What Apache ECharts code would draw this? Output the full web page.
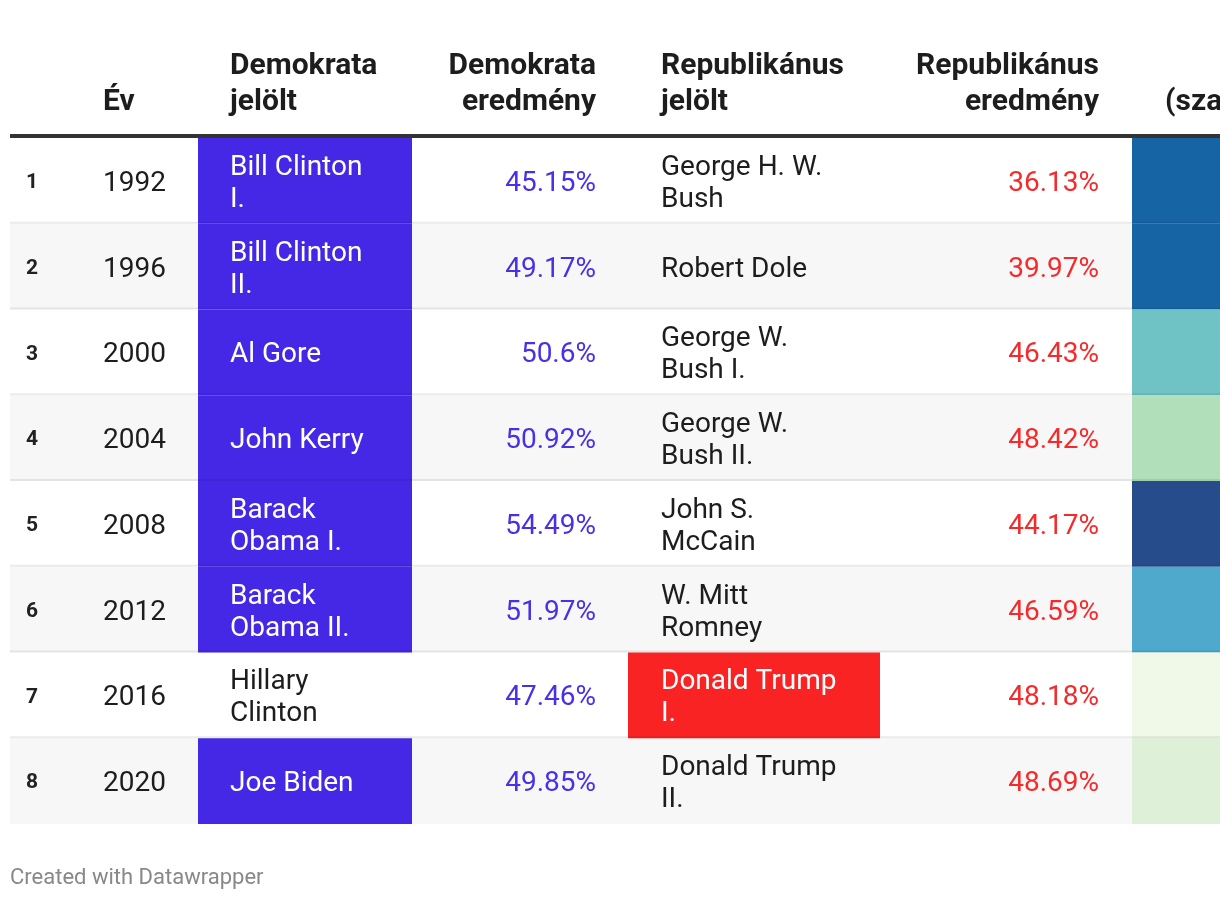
<!DOCTYPE html>
<html><head><meta charset="utf-8">
<script src="https://cdn.jsdelivr.net/npm/echarts@6/dist/echarts.min.js"></script>
<style>html,body{margin:0;padding:0;background:#fff}#chart{width:1220px;height:900px}</style>
</head><body><div id="chart"></div>
<script>
// ---- data ----
const rowNumbers = [1, 2, 3, 4, 5, 6, 7, 8];
const years = [1992, 1996, 2000, 2004, 2008, 2012, 2016, 2020];
const demCandidates = ['Bill Clinton I.', 'Bill Clinton II.', 'Al Gore', 'John Kerry', 'Barack Obama I.', 'Barack Obama II.', 'Hillary Clinton', 'Joe Biden'];
const demResults = [45.15, 49.17, 50.6, 50.92, 54.49, 51.97, 47.46, 49.85];
const repCandidates = ['George H. W. Bush', 'Robert Dole', 'George W. Bush I.', 'George W. Bush II.', 'John S. McCain', 'W. Mitt Romney', 'Donald Trump I.', 'Donald Trump II.'];
const repResults = [36.13, 39.97, 46.43, 48.42, 44.17, 46.59, 48.18, 48.69];
const headerYear = 'Év';
const headerDemName = 'Demokrata\njelölt';
const headerDemRes = 'Demokrata\neredmény';
const headerRepName = 'Republikánus\njelölt';
const headerRepRes = 'Republikánus\neredmény';
const headerDiff = '\n(szavazatkülönbség)';
const footerText = 'Created with Datawrapper';

// ---- styles / layout ----
const FONT = 'Roboto';
const DEM = '#4428e6', REP = '#f92324';
const DEM_TXT = '#4a2fe8', REP_TXT = '#f52a2a';
const TXT = '#1d1d1d';
const BODY = 28;
const TY = 3; // text vertical offset within row
const C = {num: 26, year: 103, demCell: [198, 412], demText: 230, demRes: 596,
           repCell: [628, 880], repText: 661, repRes: 1099, diffCell: [1132, 1240]};

const rows = years.map((y, i) => [0, i, +(demResults[i] - repResults[i]).toFixed(2)]);
const cats = years.map(String);

function geom(api) {
  const i = api.value(1);
  const c = api.coord([0, i]);
  const h = api.size([0, 1])[1];
  return {i, cy: c[1], top: c[1] - h / 2, h, X: x => api.coord([x, i])[0]};
}

function txt(x, y, text, opt) {
  return {type: 'text', x, y: y + TY, style: Object.assign({text, fontFamily: FONT, fontSize: BODY,
    fill: TXT, verticalAlign: 'middle', align: 'left', lineHeight: 32}, opt)};
}

function renderBg(params, api) {
  const g = geom(api);
  return {type: 'rect', shape: {x: g.X(10), y: g.top, width: g.X(1240) - g.X(10), height: g.h},
    style: {fill: g.i % 2 === 1 ? '#f7f7f7' : '#ffffff'}};
}

function renderSep(params, api) {
  const g = geom(api);
  if (g.i === years.length - 1) return null;
  return {type: 'rect', shape: {x: g.X(10), y: g.top + g.h - 2, width: g.X(1240) - g.X(10), height: 2},
    style: {fill: 'rgba(0,0,0,0.08)'}};
}

function renderCells(params, api) {
  const g = geom(api);
  const i = g.i;
  const demWin = demResults[i] > repResults[i];
  const ch = [];
  if (demWin) ch.push({type: 'rect', shape: {x: g.X(C.demCell[0]), y: g.top, width: g.X(C.demCell[1]) - g.X(C.demCell[0]), height: g.h}, style: {fill: DEM}});
  else ch.push({type: 'rect', shape: {x: g.X(C.repCell[0]), y: g.top, width: g.X(C.repCell[1]) - g.X(C.repCell[0]), height: g.h}, style: {fill: REP}});
  ch.push(txt(g.X(C.num), g.cy - 1, String(rowNumbers[i]), {fontSize: 21, fontWeight: 'bold', fill: '#222'}));
  ch.push(txt(g.X(C.year), g.cy, String(years[i]), {}));
  ch.push(txt(g.X(C.demText), g.cy, demCandidates[i], {fill: demWin ? '#fff' : TXT, width: 150, overflow: 'break'}));
  ch.push(txt(g.X(C.demRes), g.cy, demResults[i] + '%', {fill: DEM_TXT, align: 'right'}));
  ch.push(txt(g.X(C.repText), g.cy, repCandidates[i], {fill: demWin ? TXT : '#fff', width: 186, overflow: 'break'}));
  ch.push(txt(g.X(C.repRes), g.cy, repResults[i] + '%', {fill: REP_TXT, align: 'right'}));
  return {type: 'group', children: ch};
}

function renderDiff(params, api) {
  const g = geom(api);
  return {type: 'rect', shape: {x: g.X(C.diffCell[0]), y: g.top, width: g.X(C.diffCell[1]) - g.X(C.diffCell[0]), height: g.h},
    style: {fill: api.visual('color')}};
}

function headerText(x, text, align) {
  return {type: 'text', x, y: 84, style: {text, fontFamily: FONT, fontSize: 30, fontWeight: 'bold',
    fill: '#1d1d1d', align, verticalAlign: 'middle', lineHeight: 36}};
}

const chart = echarts.init(document.getElementById('chart'), null, {renderer: 'canvas'});
chart.setOption({
  animation: false,
  backgroundColor: '#ffffff',
  grid: {left: 0, right: 0, top: 138, height: 686},
  xAxis: {type: 'value', min: 0, max: 1220, show: false},
  yAxis: {type: 'category', data: cats, inverse: true, show: false},
  visualMap: {type: 'piecewise', show: false, seriesIndex: 2, dimension: 2,
    pieces: [
      {lt: 0.5, color: '#f0f8e8'},
      {gte: 0.5, lt: 2, color: '#def0d8'},
      {gte: 2, lt: 3.5, color: '#b0dfba'},
      {gte: 3.5, lt: 5, color: '#6fc3c5'},
      {gte: 5, lt: 7, color: '#4fa9cc'},
      {gte: 7, lt: 9.5, color: '#1764a5'},
      {gte: 9.5, color: '#264c8c'}
    ]},
  series: [
    {type: 'custom', renderItem: renderBg, data: rows, encode: {x: 0, y: 1}, z: 1, silent: true},
    {type: 'custom', renderItem: renderCells, data: rows, encode: {x: 0, y: 1}, z: 2, silent: true},
    {type: 'custom', renderItem: renderDiff, data: rows, encode: {x: 0, y: 1}, z: 2, silent: true},
    {type: 'custom', renderItem: renderSep, data: rows, encode: {x: 0, y: 1}, z: 3, silent: true}
  ],
  graphic: [
    {type: 'rect', shape: {x: 10, y: 134, width: 1230, height: 4}, style: {fill: '#333'}},
    headerText(103, '\n' + headerYear, 'left'),
    headerText(230, headerDemName, 'left'),
    headerText(596, headerDemRes, 'right'),
    headerText(661, headerRepName, 'left'),
    headerText(1099, headerRepRes, 'right'),
    headerText(1165, headerDiff, 'left'),
    {type: 'text', x: 10, y: 878, style: {text: footerText, fontFamily: FONT, fontSize: 22, fill: '#888', verticalAlign: 'middle'}}
  ]
});
</script></body></html>
